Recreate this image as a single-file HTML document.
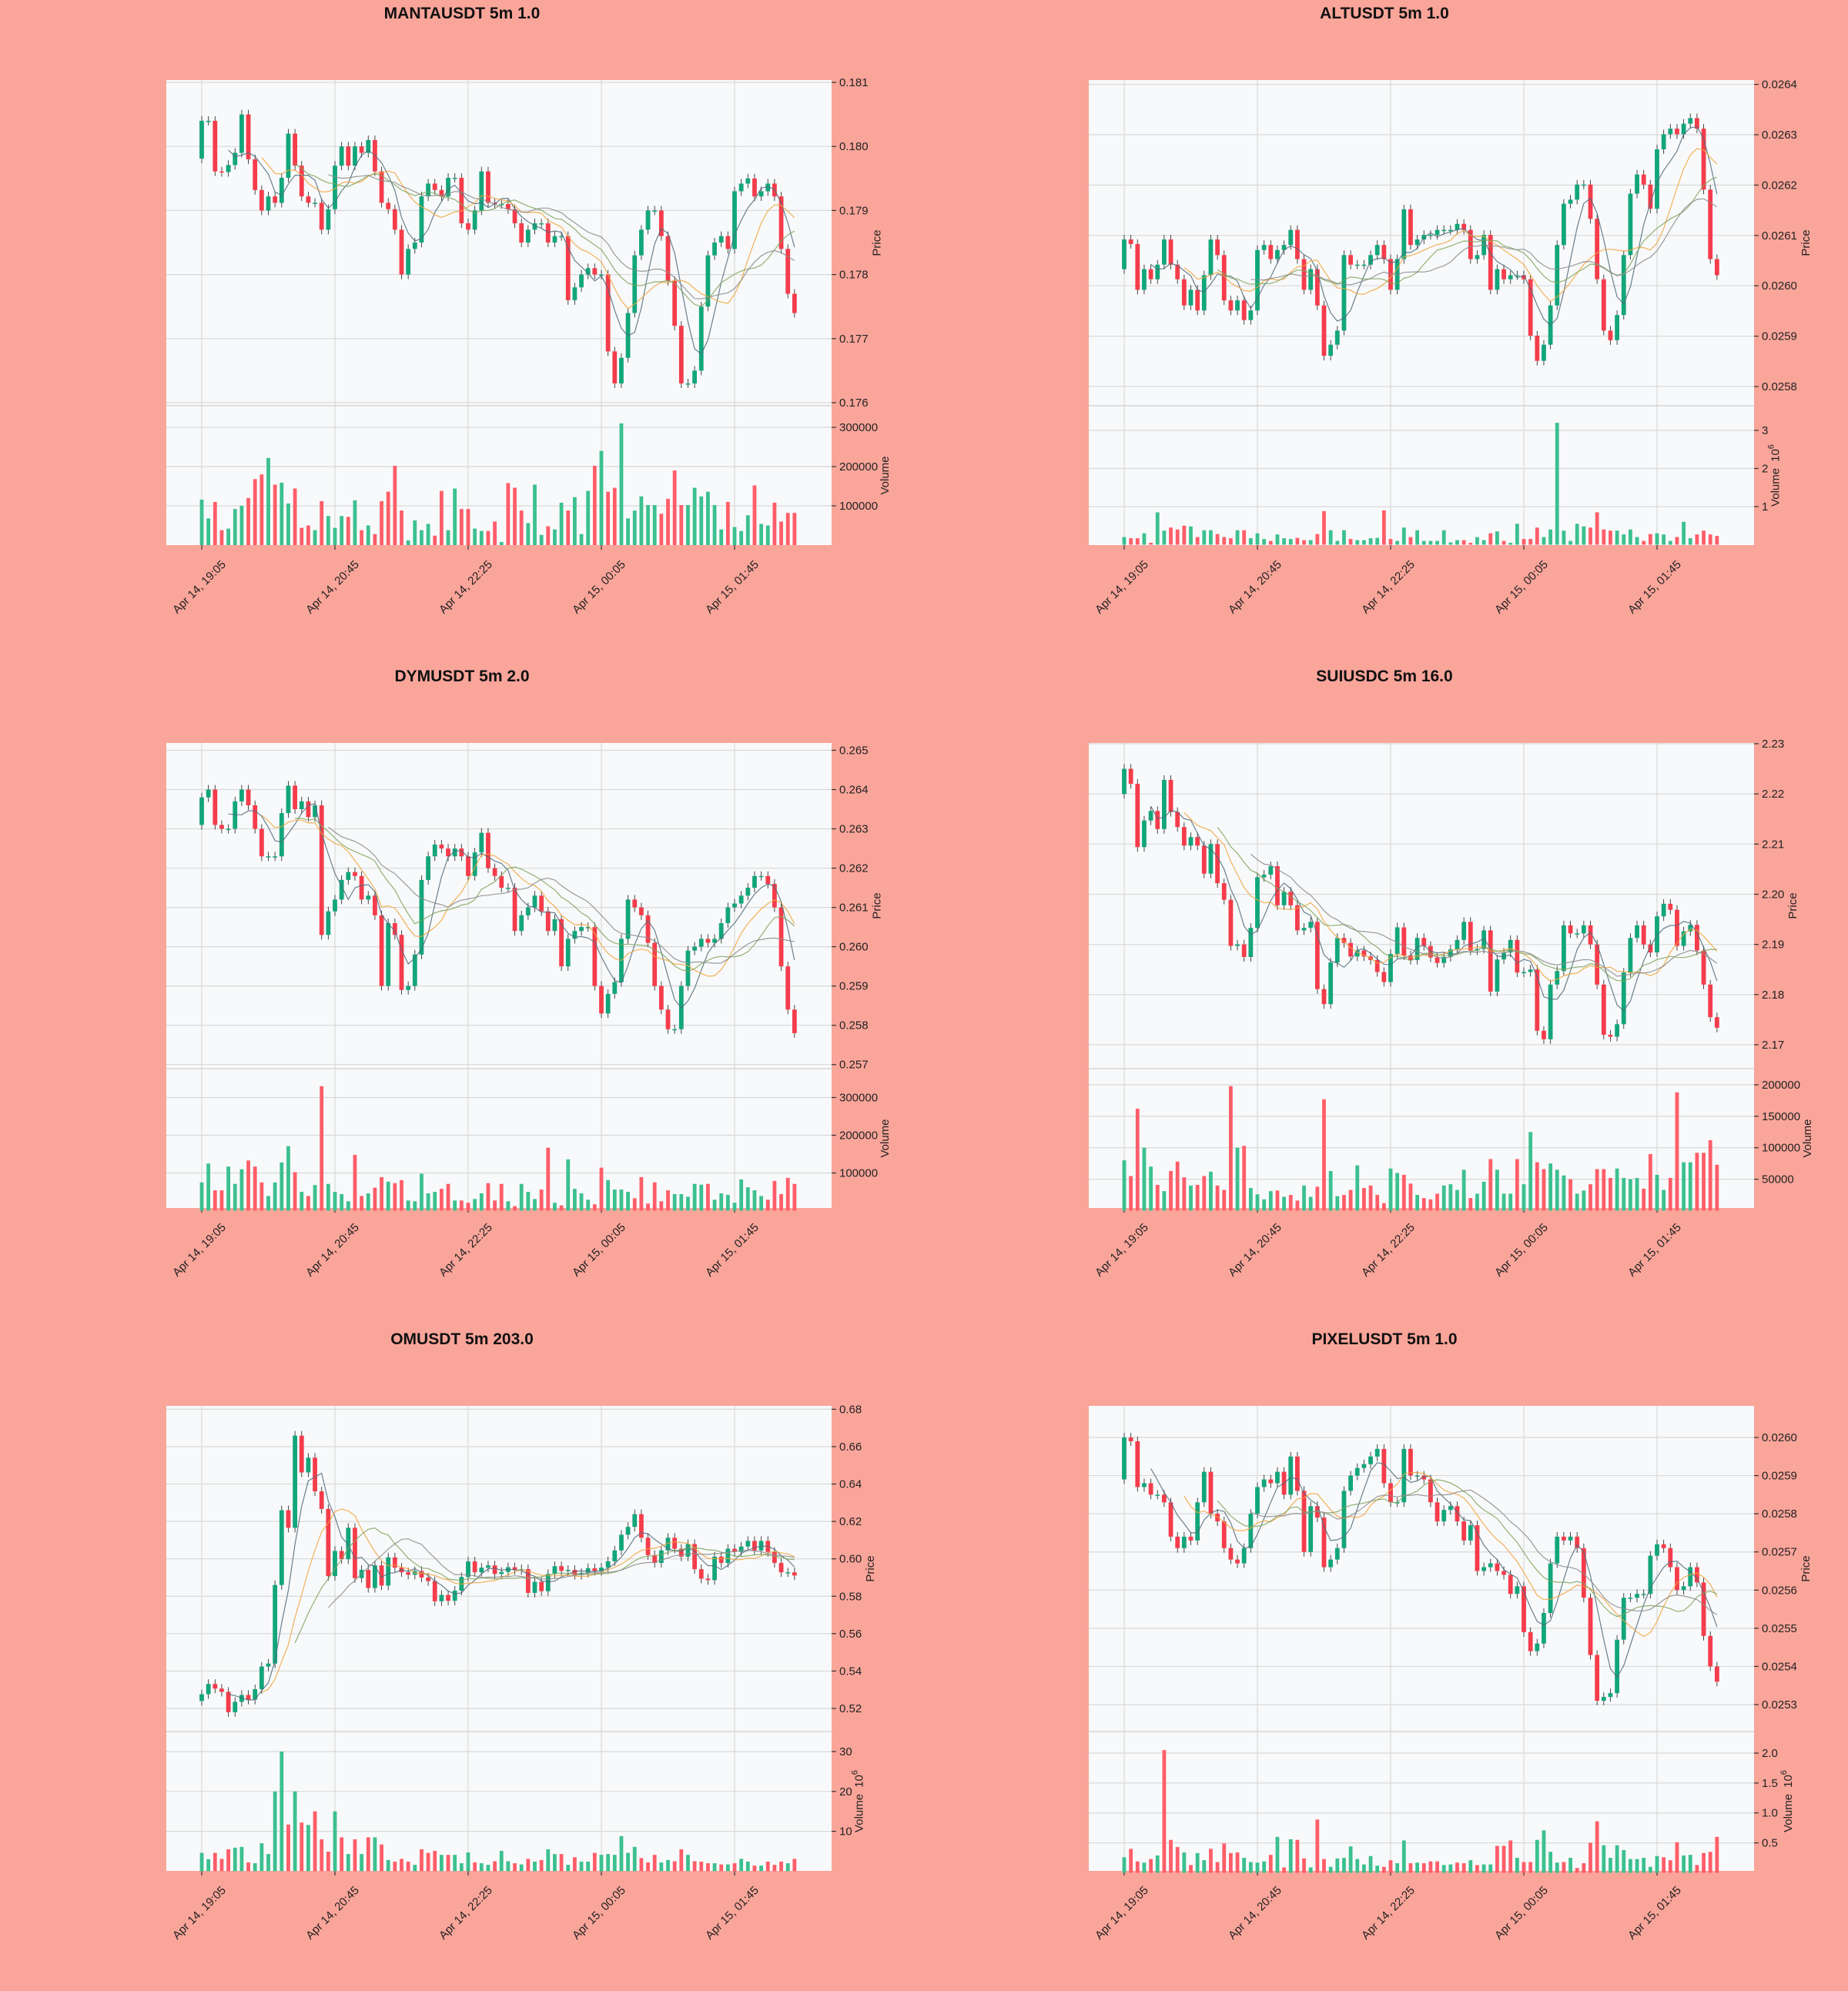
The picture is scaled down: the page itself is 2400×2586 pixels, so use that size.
<!DOCTYPE html>
<html><head><meta charset="utf-8"><title>Candlestick panels</title>
<style>
html,body{margin:0;padding:0;background:#faa59a;}
svg{display:block;font-family:"Liberation Sans",sans-serif;}
</style></head>
<body>
<svg id="chart" width="2400" height="2586" viewBox="0 0 2400 2586" xmlns="http://www.w3.org/2000/svg">
<rect x="0" y="0" width="2400" height="2586" fill="#faa59a"/>
</svg>
<script>
// ---------- shared axis data ----------
const xLabels=["Apr 14, 19:05","Apr 14, 20:45","Apr 14, 22:25","Apr 15, 00:05","Apr 15, 01:45"];
const xTickIdx=[0,20,40,60,80];
const maWindows=[5,10,15,20];

// ---------- MANTAUSDT ----------
const mantaClose=[0.18040,0.18040,0.17961,0.17960,0.17971,0.17990,0.18050,0.17980,0.17932,0.17900,
0.17922,0.17912,0.17951,0.18020,0.17970,0.17922,0.17912,0.17912,0.17870,0.17902,
0.17970,0.18000,0.17970,0.18000,0.17990,0.18010,0.17961,0.17912,0.17902,0.17870,
0.17800,0.17840,0.17850,0.17922,0.17942,0.17932,0.17922,0.17951,0.17951,0.17880,
0.17870,0.17900,0.17961,0.17912,0.17910,0.17910,0.17902,0.17880,0.17850,0.17870,
0.17880,0.17880,0.17850,0.17860,0.17860,0.17760,0.17780,0.17800,0.17810,0.17800,
0.17800,0.17680,0.17630,0.17670,0.17740,0.17830,0.17870,0.17900,0.17900,0.17860,
0.17790,0.17720,0.17630,0.17630,0.17650,0.17750,0.17830,0.17850,0.17860,0.17840,
0.17930,0.17942,0.17950,0.17922,0.17930,0.17942,0.17922,0.17840,0.17770,0.17740];
const mantaVol=[116000,68000,110000,38000,42000,92000,100000,120000,168000,180000,
222000,154000,159000,106000,144000,44000,50000,38000,112000,74000,
44000,74000,72000,114000,38000,50000,28000,112000,136000,202000,
88000,12000,63000,38000,54000,24000,138000,38000,144000,92000,
92000,42000,36000,36000,60000,8000,158000,146000,88000,56000,
154000,26000,48000,40000,108000,88000,122000,28000,138000,202000,
240000,136000,146000,310000,68000,88000,124000,102000,102000,80000,
118000,190000,102000,102000,146000,124000,136000,102000,40000,110000,
46000,36000,76000,152000,54000,50000,108000,60000,82000,82000];
const mantaPriceTicks=[0.176,0.177,0.178,0.179,0.180,0.181];
const mantaVolTicks=[100000,200000,300000];

// ---------- ALTUSDT ----------
const altClose=[0.026092,0.026083,0.025992,0.026033,0.026013,0.026042,0.026092,0.026042,0.026013,0.025961,
0.025992,0.025951,0.026021,0.026092,0.026061,0.025971,0.025951,0.025971,0.025932,0.025951,
0.026071,0.026081,0.026053,0.026071,0.026081,0.026111,0.026053,0.025992,0.026033,0.025961,
0.025861,0.025883,0.025911,0.026061,0.026042,0.026042,0.026042,0.026061,0.026081,0.026053,
0.025992,0.026053,0.026152,0.026081,0.026092,0.026101,0.026101,0.026111,0.026111,0.026111,
0.026123,0.026111,0.026053,0.026061,0.026101,0.025992,0.026033,0.026013,0.026021,0.026021,
0.026013,0.025901,0.025851,0.025883,0.025961,0.026081,0.026163,0.026171,0.026201,0.026201,
0.026133,0.026013,0.025911,0.025892,0.025942,0.026061,0.026183,0.026221,0.026201,0.026153,
0.026271,0.026301,0.026312,0.026301,0.026322,0.026333,0.026312,0.026191,0.026053,0.026021];
const altVol=[0.2,0.17,0.17,0.3,0.05,0.85,0.37,0.45,0.4,0.5,
0.48,0.2,0.38,0.38,0.28,0.2,0.17,0.38,0.38,0.17,
0.3,0.15,0.1,0.27,0.17,0.15,0.18,0.12,0.12,0.28,
0.88,0.38,0.1,0.38,0.15,0.12,0.12,0.17,0.18,0.9,
0.15,0.1,0.45,0.2,0.38,0.1,0.1,0.1,0.38,0.06,
0.12,0.12,0.05,0.2,0.12,0.3,0.35,0.1,0.05,0.55,
0.15,0.15,0.45,0.2,0.4,3.2,0.37,0.1,0.55,0.48,
0.45,0.85,0.4,0.37,0.37,0.27,0.4,0.2,0.1,0.28,
0.3,0.27,0.1,0.2,0.6,0.17,0.27,0.37,0.27,0.23];
const altPriceTicks=[0.0258,0.0259,0.0260,0.0261,0.0262,0.0263,0.0264];
const altVolTicks=[1,2,3];

// ---------- DYMUSDT ----------
const dymClose=[0.2638,0.2640,0.2631,0.2630,0.2630,0.2637,0.2640,0.2636,0.2630,0.2623,
0.2623,0.2623,0.2634,0.2641,0.2635,0.2637,0.2633,0.2636,0.2603,0.2609,
0.2612,0.2617,0.2619,0.2618,0.2612,0.2613,0.2608,0.2590,0.2606,0.2603,
0.2589,0.2590,0.2598,0.2617,0.2623,0.2626,0.2625,0.2623,0.2625,0.2623,
0.2618,0.2624,0.2629,0.2620,0.2618,0.2615,0.2615,0.2604,0.2608,0.2610,
0.2613,0.2609,0.2604,0.2607,0.2595,0.2602,0.2604,0.2605,0.2605,0.2590,
0.2583,0.2588,0.2591,0.2602,0.2612,0.2610,0.2608,0.2601,0.2590,0.2584,
0.2579,0.2579,0.2590,0.2599,0.2600,0.2602,0.2601,0.2602,0.2606,0.2610,
0.2611,0.2613,0.2615,0.2618,0.2618,0.2616,0.2610,0.2595,0.2584,0.2578];
const dymVol=[75000,125000,54000,54000,117000,71000,110000,133000,117000,75000,
39000,75000,128000,171000,102000,50000,39000,68000,330000,71000,
50000,44000,25000,148000,39000,46000,61000,89000,77000,73000,
81000,27000,25000,98000,46000,50000,58000,71000,27000,27000,
21000,31000,46000,73000,27000,71000,25000,12000,71000,50000,
31000,56000,167000,21000,14000,136000,58000,46000,29000,17000,
114000,81000,56000,56000,50000,33000,89000,19000,75000,25000,
54000,44000,44000,37000,71000,69000,71000,29000,46000,42000,
21000,83000,62000,54000,39000,29000,79000,44000,87000,71000];
const dymPriceTicks=[0.257,0.258,0.259,0.260,0.261,0.262,0.263,0.264,0.265];
const dymVolTicks=[100000,200000,300000];

// ---------- SUIUSDC ----------
const suiClose=[2.2250,2.2220,2.2094,2.2147,2.2166,2.2130,2.2228,2.2164,2.2134,2.2097,
2.2114,2.2097,2.2041,2.2100,2.2022,2.1989,2.1897,2.1900,2.1875,2.1933,
2.2034,2.2039,2.2056,2.1978,2.2005,2.1978,2.1928,2.1933,2.1945,2.1811,
2.1781,2.1864,2.1913,2.1903,2.1876,2.1888,2.1876,2.1869,2.1845,2.1825,
2.1881,2.1934,2.1878,2.1869,2.1913,2.1897,2.1874,2.1863,2.1875,2.1890,
2.1909,2.1945,2.1888,2.1891,2.1928,2.1806,2.1870,2.1884,2.1909,2.1844,
2.1845,2.1850,2.1728,2.1711,2.1820,2.1847,2.1938,2.1922,2.1922,2.1938,
2.1900,2.1820,2.1720,2.1716,2.1741,2.1844,2.1913,2.1938,2.1900,2.1884,
2.1956,2.1981,2.1969,2.1897,2.1926,2.1939,2.1888,2.1820,2.1755,2.1734];
const suiVol=[80000,55000,162000,100000,70000,41000,31000,63000,78000,53000,
40000,41000,55000,62000,40000,33000,198000,100000,103000,36000,
26000,18000,31000,32000,22000,25000,16000,40000,22000,38000,
177000,63000,23000,25000,33000,72000,36000,40000,25000,12000,
67000,60000,57000,43000,25000,20000,18000,27000,40000,42000,
33000,65000,20000,27000,46000,82000,65000,27000,27000,82000,
42000,125000,77000,66000,75000,65000,56000,50000,27000,32000,
42000,66000,66000,52000,67000,52000,50000,52000,35000,90000,
57000,33000,52000,188000,77000,77000,92000,92000,112000,73000];
const suiPriceTicks=[2.17,2.18,2.19,2.20,2.21,2.22,2.23];
const suiVolTicks=[50000,100000,150000,200000];

// ---------- OMUSDT ----------
const omClose=[0.5276,0.5331,0.5306,0.5289,0.5180,0.5235,0.5272,0.5247,0.5303,0.5424,
0.5440,0.5860,0.6260,0.6166,0.6659,0.6462,0.6541,0.6361,0.6267,0.5908,
0.6042,0.5998,0.6166,0.5897,0.5941,0.5844,0.5965,0.5857,0.6008,0.5953,
0.5928,0.5915,0.5935,0.5900,0.5881,0.5773,0.5807,0.5776,0.5830,0.5903,
0.5986,0.5928,0.5953,0.5965,0.5919,0.5930,0.5955,0.5940,0.5945,0.5818,
0.5877,0.5827,0.5919,0.5961,0.5936,0.5941,0.5914,0.5925,0.5950,0.5935,
0.5953,0.5987,0.6045,0.6129,0.6171,0.6239,0.6113,0.6020,0.5978,0.6045,
0.6113,0.6054,0.6012,0.6079,0.5945,0.5894,0.5886,0.6012,0.5978,0.6054,
0.6037,0.6066,0.6096,0.6045,0.6096,0.6037,0.5978,0.5928,0.5928,0.5911];
const omVol=[4.6,3,4.6,3.1,5.5,5.9,6.1,2.2,2,7,
4.3,20,30,11.7,20,12.2,11.6,15,8,4.9,
15,8.5,4.3,8,4.3,8.5,8.5,6.7,2.8,2.4,
3.1,2.4,1.6,5.5,4.6,5.1,4.1,4.1,4.1,2,
4.7,2.2,2,1.6,2.5,5.1,2.5,2,1.7,3.1,
2.4,2.8,5.5,4.3,4.3,1.6,3.5,2.4,2.4,4.6,
4.1,4.3,4.1,8.8,4.6,6.1,3.3,2.2,4.1,2.2,
2.8,2.5,5.5,4.1,2.5,2.4,2,2,1.7,1.7,
2,3.1,2.4,1.4,1.4,2.4,1.6,2.4,2,3.1];
const omPriceTicks=[0.52,0.54,0.56,0.58,0.60,0.62,0.64,0.66,0.68];
const omVolTicks=[10,20,30];

// ---------- PIXELUSDT ----------
const pixClose=[0.02600,0.02599,0.02587,0.02588,0.02585,0.02585,0.02583,0.02574,0.02571,0.02574,
0.02573,0.02583,0.02591,0.02580,0.02578,0.02571,0.02568,0.02567,0.02571,0.02580,
0.02587,0.02589,0.02588,0.02591,0.02585,0.02595,0.02586,0.02570,0.02582,0.02579,
0.02566,0.02568,0.02571,0.02586,0.02590,0.02592,0.02593,0.02595,0.02597,0.02588,
0.02583,0.02583,0.02597,0.02590,0.02590,0.02589,0.02583,0.02578,0.02581,0.02582,
0.02578,0.02573,0.02577,0.02565,0.02566,0.02567,0.02565,0.02564,0.02559,0.02561,
0.02549,0.02544,0.02546,0.02554,0.02567,0.02574,0.02573,0.02574,0.02571,0.02558,
0.02543,0.02531,0.02532,0.02533,0.02547,0.02558,0.02558,0.02559,0.02559,0.02569,
0.02572,0.02571,0.02566,0.02560,0.02561,0.02566,0.02562,0.02548,0.02540,0.02536];
const pixVol=[0.26,0.4,0.19,0.17,0.23,0.29,2.05,0.55,0.43,0.34,
0.13,0.33,0.21,0.4,0.18,0.49,0.33,0.34,0.25,0.18,
0.17,0.19,0.3,0.6,0.09,0.56,0.55,0.24,0.09,0.89,
0.23,0.1,0.24,0.25,0.44,0.23,0.14,0.28,0.12,0.1,
0.21,0.16,0.54,0.16,0.17,0.16,0.19,0.19,0.13,0.14,
0.17,0.16,0.21,0.13,0.14,0.14,0.45,0.45,0.54,0.25,
0.18,0.18,0.55,0.71,0.35,0.17,0.18,0.25,0.08,0.16,
0.5,0.86,0.46,0.25,0.46,0.38,0.23,0.23,0.25,0.1,
0.28,0.26,0.21,0.51,0.29,0.3,0.13,0.33,0.35,0.6];
const pixPriceTicks=[0.0253,0.0254,0.0255,0.0256,0.0257,0.0258,0.0259,0.0260];
const pixVolTicks=[0.5,1.0,1.5,2.0];

// ---------- panel configuration (axis calibration, not data) ----------
const panels=[
 {key:"mantausdt",title:"MANTAUSDT 5m 1.0",left:216,top:104,close:mantaClose,open0:0.17981,vol:mantaVol,pt:mantaPriceTicks,vt:mantaVolTicks,dec:3,vdec:0,pA:0.181,yA:107,pB:0.176,yB:523,vA:300000,vyA:555,vB:100000,vyB:657,sci:false},
 {key:"altusdt",title:"ALTUSDT 5m 1.0",left:1414,top:104,close:altClose,open0:0.026033,vol:altVol,pt:altPriceTicks,vt:altVolTicks,dec:4,vdec:0,pA:0.0264,yA:109.6,pB:0.0258,yB:502,vA:3,vyA:559,vB:1,vyB:658,sci:true},
 {key:"dymusdt",title:"DYMUSDT 5m 2.0",left:216,top:965,close:dymClose,open0:0.2631,vol:dymVol,pt:dymPriceTicks,vt:dymVolTicks,dec:3,vdec:0,pA:0.265,yA:974.5,pB:0.257,yB:1382.7,vA:300000,vyA:1425.5,vB:100000,vyB:1523.5,sci:false},
 {key:"suiusdc",title:"SUIUSDC 5m 16.0",left:1414,top:965,close:suiClose,open0:2.220,vol:suiVol,pt:suiPriceTicks,vt:suiVolTicks,dec:2,vdec:0,pA:2.23,yA:966,pB:2.17,yB:1357,vA:200000,vyA:1409,vB:50000,vyB:1531.6,sci:false},
 {key:"omusdt",title:"OMUSDT 5m 203.0",left:216,top:1826,close:omClose,open0:0.524,vol:omVol,pt:omPriceTicks,vt:omVolTicks,dec:2,vdec:0,pA:0.68,yA:1830.4,pB:0.52,yB:2219,vA:30,vyA:2275,vB:10,vyB:2378.6,sci:true},
 {key:"pixelusdt",title:"PIXELUSDT 5m 1.0",left:1414,top:1826,close:pixClose,open0:0.02589,vol:pixVol,pt:pixPriceTicks,vt:pixVolTicks,dec:4,vdec:1,pA:0.0260,yA:1867,pB:0.0253,yB:2214,vA:2.0,vyA:2277,vB:0.5,vyB:2393.6,sci:true}
];

const NS="http://www.w3.org/2000/svg";
const svg=document.getElementById("chart");
const UP="#12a67a",DOWN="#f53c4b",VUP="#3cc08f",VDOWN="#ff5e69";
const MACOL=["#4f6b7c","#f0a53c","#7fa45c","#8a8a8a"];

function mk(tag,attrs,parent){
  const e=document.createElementNS(NS,tag);
  for(const k in attrs) e.setAttribute(k,attrs[k]);
  (parent||svg).appendChild(e);
  return e;
}

function drawPanel(cfg){
  const g=mk("g",{});
  
  
  const L=cfg.left,T=cfg.top,R=L+864,B=T+604,S=T+423;
  const xi=i=>L+46+i*8.65;
  const py=p=>cfg.yA+(p-cfg.pA)*(cfg.yB-cfg.yA)/(cfg.pB-cfg.pA);
  const vy=v=>cfg.vyA+(v-cfg.vA)*(cfg.vyB-cfg.vyA)/(cfg.vB-cfg.vA);

  const bg=mk("rect",{x:L,y:T,width:864,height:B-T,fill:"#f8f9fa"},g);
  
  

  xTickIdx.forEach((ti,k)=>{
    const x=xi(ti);
    const ln=mk("line",{x1:x,y1:T,x2:x,y2:B,stroke:"#d9d9d9","stroke-width":1.2},g);
    
    
    mk("line",{x1:x,y1:B,x2:x,y2:B+6,stroke:"#333","stroke-width":1.2},g);
    const tx=x+32, ty=B+26;
    const t=mk("text",{x:tx,y:ty,"font-size":15,fill:"#222","text-anchor":"end",transform:`rotate(-45 ${tx} ${ty})`},g);
    t.textContent=xLabels[k];
    
    
  });

  let pMax=0,vMax=0;
  cfg.pt.forEach(p=>{
    const y=py(p);
    const ln=mk("line",{x1:L,y1:y,x2:R,y2:y,stroke:"#d9d9d9","stroke-width":1.2},g);
    
    
    mk("line",{x1:R,y1:y,x2:R+6,y2:y,stroke:"#333","stroke-width":1.2},g);
    const t=mk("text",{x:R+10,y:y+5,"font-size":15,fill:"#222"},g);
    t.textContent=p.toFixed(cfg.dec);
    pMax=Math.max(pMax,t.textContent.length);
    
    
  });
  cfg.vt.forEach(v=>{
    const y=vy(v);
    const ln=mk("line",{x1:L,y1:y,x2:R,y2:y,stroke:"#d9d9d9","stroke-width":1.2},g);
    
    
    mk("line",{x1:R,y1:y,x2:R+6,y2:y,stroke:"#333","stroke-width":1.2},g);
    const t=mk("text",{x:R+10,y:y+5,"font-size":15,fill:"#222"},g);
    t.textContent=v.toFixed(cfg.vdec);
    vMax=Math.max(vMax,t.textContent.length);
    
    
  });
  mk("line",{x1:L,y1:S,x2:R,y2:S,stroke:"#d0d0d0","stroke-width":1.2},g);

  const c=cfg.close;
  const v0=vy(0);
  cfg.vol.forEach((v,i)=>{
    const o=i?c[i-1]:cfg.open0;
    const up=c[i]>=o;
    const y=vy(v);
    const r=mk("rect",{x:xi(i)-2.4,y:Math.min(y,v0),width:4.8,height:Math.max(0.5,Math.abs(v0-y)),fill:up?VUP:VDOWN},g);
    
    
  });

  c.forEach((cl,i)=>{
    const o=i?c[i-1]:cfg.open0;
    const up=cl>=o;
    const yt=py(Math.max(o,cl)), yb=py(Math.min(o,cl));
    const col=up?UP:DOWN;
    const w=mk("line",{x1:xi(i),y1:yt-6,x2:xi(i),y2:yb+6,stroke:"#333","stroke-width":0.9},g);
    
    
    const r=mk("rect",{x:xi(i)-2.9,y:yt,width:5.8,height:Math.max(1.5,yb-yt),fill:col},g);
    
    
  });

  maWindows.forEach((wn,k)=>{
    const pts=[];
    for(let i=wn-1;i<c.length;i++){
      let s=0;for(let j=i-wn+1;j<=i;j++)s+=c[j];
      pts.push(xi(i).toFixed(1)+","+py(s/wn).toFixed(1));
    }
    const pl=mk("polyline",{points:pts.join(" "),fill:"none",stroke:MACOL[k],"stroke-width":1.2,opacity:0.85},g);
    
    
  });

  const tt=mk("text",{x:(L+R)/2-48,y:T-80,"font-size":21,"font-weight":"bold",fill:"#111","text-anchor":"middle"},g);
  tt.textContent=cfg.title;
  
  

  const axP=R+10+pMax*8.3+12;
  const pyc=(T+S)/2;
  const pl=mk("text",{x:axP,y:pyc,"font-size":15,fill:"#222","text-anchor":"middle",transform:`rotate(-90 ${axP} ${pyc})`},g);
  pl.textContent="Price";
  
  
  const axV=R+10+vMax*8.3+14;
  const vyc=(S+B)/2;
  const vl=mk("text",{x:axV,y:vyc,"font-size":15,fill:"#222","text-anchor":"middle",transform:`rotate(-90 ${axV} ${vyc})`},g);
  vl.textContent="Volume";
  if(cfg.sci){
    const s1=document.createElementNS(NS,"tspan");s1.setAttribute("dx","8");s1.textContent="10";vl.appendChild(s1);
    const s2=document.createElementNS(NS,"tspan");s2.setAttribute("dy","-7");s2.setAttribute("font-size","11");s2.textContent="6";vl.appendChild(s2);
  }
  
  
}

panels.forEach(drawPanel);
</script>
</body></html>
